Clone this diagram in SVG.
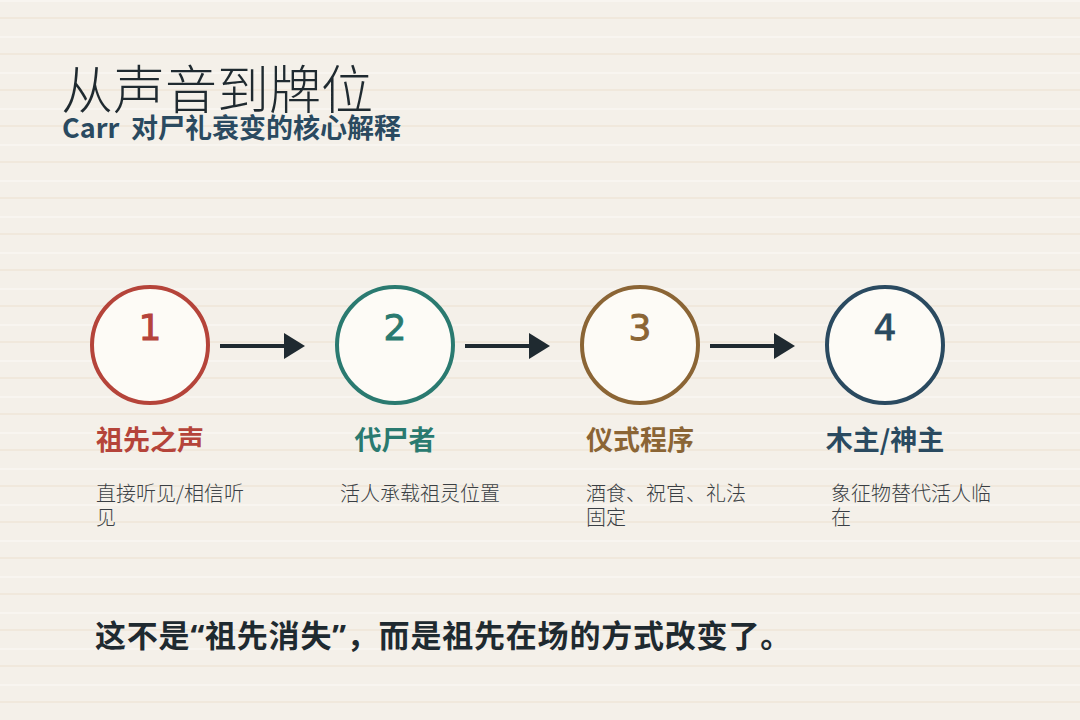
<svg xmlns="http://www.w3.org/2000/svg" width="1080" height="720" viewBox="0 0 1080 720">
  <defs>
    <pattern id="lines" x="0" y="0" width="1080" height="36" patternUnits="userSpaceOnUse">
      <rect x="0" y="0" width="1080" height="36" fill="#f4f0e9"/>
      <rect x="0" y="0" width="1080" height="2" fill="#f8f5f0"/>
      <rect x="0" y="17" width="1080" height="2" fill="#f0e8dc"/>
    </pattern>
    <marker id="arrow" viewBox="0 0 21 26" refX="1" refY="13" markerWidth="21" markerHeight="26" markerUnits="userSpaceOnUse" orient="auto">
      <path d="M0,0 L21,13 L0,26 Z" fill="#1f2a30"/>
    </marker>
    <style>
      .cjk { font-family: "Noto Sans CJK SC", "Noto Sans", sans-serif; }
      .lat { font-family: "Noto Sans", "Noto Sans CJK SC", sans-serif; }
      .title { font-size: 52px; font-weight: 300; fill: #1f2a30; }
      .subtitle { font-size: 27px; font-weight: 700; fill: #2a4a60; }
      .ring { fill: #fdfbf6; stroke-width: 4; }
      .num { font-family: "DejaVu Sans", sans-serif; font-size: 36px; text-anchor: middle; stroke-width: 0.9; }
      .label { font-size: 27px; font-weight: 700; text-anchor: middle; }
      .desc { font-size: 20px; font-weight: 300; fill: #3a3f44; }
      .conn { stroke: #1f2a30; stroke-width: 4; fill: none; }
      .note { font-size: 31px; font-weight: 700; fill: #1f2a30; letter-spacing: 0.8px; }
    </style>
  </defs>
  <rect x="0" y="0" width="1080" height="720" fill="url(#lines)"/>

  <g id="header">
    <text class="cjk title" x="61" y="109">从声音到牌位</text>
    <text class="cjk subtitle" x="62" y="138">Carr <tspan x="131">对尸礼衰变的核心解释</tspan></text>
  </g>

  <g id="connectors">
    <line class="conn" x1="220" y1="346" x2="285" y2="346" marker-end="url(#arrow)"/>
    <line class="conn" x1="465" y1="346" x2="530" y2="346" marker-end="url(#arrow)"/>
    <line class="conn" x1="710" y1="346" x2="775" y2="346" marker-end="url(#arrow)"/>
  </g>

  <g id="node1">
    <circle class="ring" cx="150" cy="345" r="58" stroke="#b5443a"/>
    <text class="num" x="150" y="340" fill="#b5443a" stroke="#b5443a">1</text>
    <text class="cjk label" x="150" y="450" fill="#b5443a">祖先之声</text>
    <text class="cjk desc" x="96" y="501">直接听见/相信听<tspan x="96" y="525">见</tspan></text>
  </g>

  <g id="node2">
    <circle class="ring" cx="395" cy="345" r="58" stroke="#2a7a70"/>
    <text class="num" x="395" y="340" fill="#2a7a70" stroke="#2a7a70">2</text>
    <text class="cjk label" x="395" y="450" fill="#2a7a70">代尸者</text>
    <text class="cjk desc" x="340" y="501">活人承载祖灵位置</text>
  </g>

  <g id="node3">
    <circle class="ring" cx="640" cy="345" r="58" stroke="#8b6535"/>
    <text class="num" x="640" y="340" fill="#8b6535" stroke="#8b6535">3</text>
    <text class="cjk label" x="640" y="450" fill="#8b6535">仪式程序</text>
    <text class="cjk desc" x="586" y="501">酒食、祝官、礼法<tspan x="586" y="525">固定</tspan></text>
  </g>

  <g id="node4">
    <circle class="ring" cx="885" cy="345" r="58" stroke="#2a4a60"/>
    <text class="num" x="885" y="340" fill="#2a4a60" stroke="#2a4a60">4</text>
    <text class="cjk label" x="885" y="450" fill="#2a4a60">木主/神主</text>
    <text class="cjk desc" x="831" y="501">象征物替代活人临<tspan x="831" y="525">在</tspan></text>
  </g>

  <g id="footer">
    <text class="lat note" x="95" y="647">这不是“祖先消失”，而是祖先在场的方式改变了。</text>
  </g>
</svg>
